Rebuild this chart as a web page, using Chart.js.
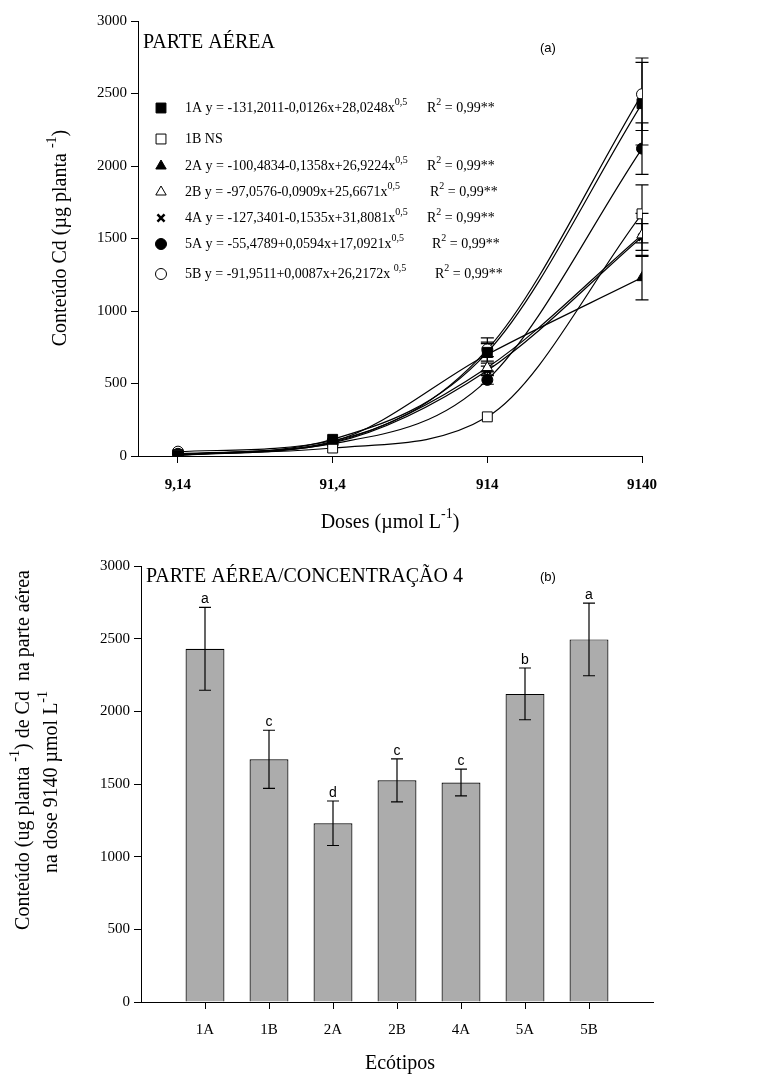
<!DOCTYPE html>
<html>
<head>
<meta charset="utf-8">
<script src="https://cdn.jsdelivr.net/npm/chart.js@4.4.1/dist/chart.umd.min.js"></script>
<style>
  html, body { margin: 0; padding: 0; background: #fff; }
  #wrap { position: relative; width: 768px; height: 1077px; }
  canvas { position: absolute; left: 0; }
  #topChart { top: 0; }
  #barChart { top: 545px; }
</style>
</head>
<body>
<div id="wrap">
  <canvas id="topChart" width="768" height="545"></canvas>
  <canvas id="barChart" width="768" height="532"></canvas>
</div>
<script>
// doses (µmol L-1) and ecotypes
const doses = [9.14, 91.4, 914, 9140];
const ecotypes = ['1A', '1B', '2A', '2B', '4A', '5A', '5B'];

// Cd content (µg planta-1) per ecotype at each dose
const cd1A = [5, 115, 715, 2430];
const cd1B = [10, 55, 270, 1670];
const cd2A = [5, 100, 700, 1230];
const cd2B = [10, 95, 610, 1525];
const cd4A = [5, 90, 590, 1510];
const cd5A = [15, 85, 525, 2120];
const cd5B = [30, 105, 735, 2495];

// error bar half-lengths at each dose
const err1A = [0, 0, 60, 285];
const err1B = [0, 0, 0, 200];
const err2A = [0, 0, 115, 153];
const err2B = [0, 0, 30, 148];
const err4A = [0, 0, 30, 92];
const err5A = [0, 0, 30, 178];
const err5B = [0, 0, 50, 250];

// bar chart: content at dose 9140
const content9140 = [2430, 1670, 1230, 1525, 1510, 2120, 2495];
const error9140 = [285, 200, 153, 148, 92, 178, 250];
const letters9140 = ['a', 'c', 'd', 'c', 'c', 'b', 'a'];

// legend equations
const equations = [
  '1A y = -131,2011-0,0126x+28,0248x',
  '1B NS',
  '2A y = -100,4834-0,1358x+26,9224x',
  '2B y = -97,0576-0,0909x+25,6671x',
  '4A y = -127,3401-0,1535x+31,8081x',
  '5A y = -55,4789+0,0594x+17,0921x',
  '5B y = -91,9511+0,0087x+26,2172x '
];

const allSeries = [cd1A, cd1B, cd2A, cd2B, cd4A, cd5A, cd5B];
const allErrors = [err1A, err1B, err2A, err2B, err4A, err5A, err5B];

const SERIF = '"Liberation Serif", "Times New Roman", serif';
const SANS = '"Liberation Sans", Arial, sans-serif';

const markers = [
  { style: 'rect', fill: '#000', r: 7, bw: 1 },
  { style: 'rect', fill: '#fff', r: 7, bw: 1 },
  { style: 'triangle', fill: '#000', r: 6, bw: 1 },
  { style: 'triangle', fill: '#fff', r: 6, bw: 1 },
  { style: 'crossRot', fill: '#000', r: 5, bw: 2.5 },
  { style: 'circle', fill: '#000', r: 5.5, bw: 1 },
  { style: 'circle', fill: '#fff', r: 5.5, bw: 1 }
];

// draws text pieces, some raised as superscripts; returns end x
function drawRich(ctx, parts, x, y, size) {
  let cx = x;
  parts.forEach(([t, sup]) => {
    const fs = sup ? Math.round(size * 0.72) : size;
    ctx.font = fs + 'px ' + SERIF;
    ctx.fillText(t, cx, sup ? y - size * 0.42 : y);
    cx += ctx.measureText(t).width;
  });
  return cx;
}

function richWidth(ctx, parts, size) {
  let w = 0;
  parts.forEach(([t, sup]) => {
    ctx.font = (sup ? Math.round(size * 0.72) : size) + 'px ' + SERIF;
    w += ctx.measureText(t).width;
  });
  return w;
}

function drawRichCentered(ctx, parts, cx, cy, size, rotate) {
  const w = richWidth(ctx, parts, size);
  ctx.save();
  ctx.translate(cx, cy);
  if (rotate) ctx.rotate(-Math.PI / 2);
  ctx.textBaseline = 'middle';
  ctx.textAlign = 'left';
  drawRich(ctx, parts, -w / 2, 0, size);
  ctx.restore();
}

function errorBar(ctx, x, yTop, yBot, cap) {
  ctx.beginPath();
  ctx.moveTo(x, yTop); ctx.lineTo(x, yBot);
  ctx.moveTo(x - cap, yTop); ctx.lineTo(x + cap, yTop);
  ctx.moveTo(x - cap, yBot); ctx.lineTo(x + cap, yBot);
  ctx.stroke();
}

const topDecor = {
  id: 'topDecor',
  beforeDatasetsDraw(chart) {
    const { ctx, scales: { x, y } } = chart;
    ctx.save();
    ctx.strokeStyle = '#000';
    ctx.lineWidth = 1.2;
    allSeries.forEach((s, i) => {
      s.forEach((v, j) => {
        const e = allErrors[i][j];
        if (!e) return;
        errorBar(ctx, x.getPixelForValue(doses[j]), y.getPixelForValue(v + e), y.getPixelForValue(v - e), 6.5);
      });
    });
    ctx.restore();
  },
  afterDraw(chart) {
    const ctx = chart.ctx;
    ctx.save();
    ctx.fillStyle = '#000';
    ctx.textBaseline = 'middle';
    ctx.textAlign = 'left';
    ctx.font = '20px ' + SERIF;
    ctx.fillText('PARTE AÉREA', 143, 43);
    ctx.font = '13px ' + SANS;
    ctx.fillText('(a)', 540, 48);

    const rowsY = [108, 139, 166, 192, 218, 244, 274];
    const r2X = [427, 0, 427, 430, 427, 432, 435];
    equations.forEach((eq, i) => {
      const m = markers[i];
      ctx.fillStyle = m.fill;
      ctx.strokeStyle = '#000';
      ctx.lineWidth = m.bw;
      Chart.helpers.drawPoint(ctx, { pointStyle: m.style, radius: m.r, borderWidth: m.bw, rotation: 0 }, 161, rowsY[i]);
      ctx.fillStyle = '#000';
      if (i === 1) {
        drawRich(ctx, [[eq, false]], 185, rowsY[i], 14);
      } else {
        drawRich(ctx, [[eq, false], ['0,5', true]], 185, rowsY[i], 14);
        drawRich(ctx, [['R', false], ['2', true], [' = 0,99**', false]], r2X[i], rowsY[i], 14);
      }
    });

    drawRichCentered(ctx, [['Conteúdo Cd (µg planta ', false], ['-1', true], [')', false]], 61, 238, 20, true);
    drawRichCentered(ctx, [['Doses (µmol L', false], ['-1', true], [')', false]], 390, 523, 20, false);
    ctx.restore();
  }
};

const barDecor = {
  id: 'barDecor',
  afterDatasetsDraw(chart) {
    const { ctx, scales: { x, y } } = chart;
    ctx.save();
    ctx.strokeStyle = '#000';
    ctx.fillStyle = '#000';
    ctx.lineWidth = 1.2;
    ctx.font = '14px ' + SANS;
    ctx.textAlign = 'center';
    ctx.textBaseline = 'bottom';
    content9140.forEach((v, i) => {
      const px = x.getPixelForValue(i + 1);
      const yTop = y.getPixelForValue(v + error9140[i]);
      errorBar(ctx, px, yTop, y.getPixelForValue(v - error9140[i]), 6);
      ctx.fillText(letters9140[i], px, yTop - 1);
    });
    ctx.restore();
  },
  afterDraw(chart) {
    const ctx = chart.ctx;
    ctx.save();
    ctx.fillStyle = '#000';
    ctx.textBaseline = 'middle';
    ctx.textAlign = 'left';
    ctx.font = '20px ' + SERIF;
    ctx.fillText('PARTE AÉREA/CONCENTRAÇÃO 4', 146, 32);
    ctx.font = '13px ' + SANS;
    ctx.fillText('(b)', 540, 32);
    drawRichCentered(ctx, [['Conteúdo (ug planta ', false], ['-1', true], [') de Cd  na parte aérea', false]], 24, 205, 20, true);
    drawRichCentered(ctx, [['na dose 9140 µmol L', false], ['-1', true]], 52, 237, 20, true);
    drawRichCentered(ctx, [['Ecótipos', false]], 400, 519, 20, false);
    ctx.restore();
  }
};

const yAxisCommon = {
  min: 0,
  max: 3000,
  border: { color: '#000', width: 1 },
  grid: { drawOnChartArea: false, tickLength: 7, color: '#000' },
  ticks: { stepSize: 500, color: '#000', padding: 4, font: { family: SERIF, size: 15 }, callback: v => String(v) }
};

new Chart(document.getElementById('topChart'), {
  type: 'line',
  data: {
    datasets: allSeries.map((s, i) => ({
      label: ecotypes[i],
      data: s.map((v, j) => ({ x: doses[j], y: v })),
      borderColor: '#000',
      borderWidth: 1.2,
      cubicInterpolationMode: 'monotone',
      fill: false,
      pointStyle: markers[i].style,
      pointRadius: markers[i].r,
      pointBorderWidth: markers[i].bw,
      pointBackgroundColor: markers[i].fill,
      pointBorderColor: '#000'
    }))
  },
  options: {
    responsive: false,
    animation: false,
    layout: { padding: { top: 21, right: 126, left: 0, bottom: 0 } },
    plugins: { legend: { display: false }, tooltip: { enabled: false } },
    scales: {
      x: {
        type: 'logarithmic',
        min: 5.04,
        max: 9140,
        border: { color: '#000', width: 1 },
        grid: { drawOnChartArea: false, tickLength: 7, color: '#000' },
        afterBuildTicks: s => { s.ticks = doses.map(v => ({ value: v })); },
        afterFit: s => { s.height = 89; },
        ticks: {
          color: '#000',
          padding: 13,
          maxRotation: 0,
          autoSkip: false,
          font: { family: SERIF, size: 15, weight: 'bold' },
          callback: v => String(v).replace('.', ',')
        }
      },
      y: Object.assign({}, yAxisCommon, { afterFit: s => { s.width = 138; } })
    }
  },
  plugins: [topDecor]
});

new Chart(document.getElementById('barChart'), {
  type: 'bar',
  data: {
    datasets: [{
      label: 'Conteúdo',
      data: content9140.map((v, i) => ({ x: i + 1, y: v })),
      backgroundColor: '#acacac',
      borderColor: '#000',
      borderWidth: 1.2,
      barPercentage: 0.76,
      categoryPercentage: 0.8
    }]
  },
  options: {
    responsive: false,
    animation: false,
    layout: { padding: { top: 21, right: 115, left: 0, bottom: 0 } },
    plugins: { legend: { display: false }, tooltip: { enabled: false } },
    scales: {
      x: {
        type: 'linear',
        min: 0,
        max: ecotypes.length + 1,
        offset: false,
        border: { color: '#000', width: 1 },
        grid: {
          offset: false,
          drawOnChartArea: false,
          tickLength: 7,
          tickColor: c => (c.tick && c.tick.value > 0 && c.tick.value <= ecotypes.length) ? '#000' : 'rgba(0,0,0,0)'
        },
        afterFit: s => { s.height = 75; },
        ticks: {
          stepSize: 1,
          color: '#000',
          padding: 12,
          maxRotation: 0,
          autoSkip: false,
          font: { family: SERIF, size: 15 },
          callback: v => ecotypes[v - 1] || ''
        }
      },
      y: Object.assign({}, yAxisCommon, { afterFit: s => { s.width = 141; } })
    }
  },
  plugins: [barDecor]
});
</script>
</body>
</html>
